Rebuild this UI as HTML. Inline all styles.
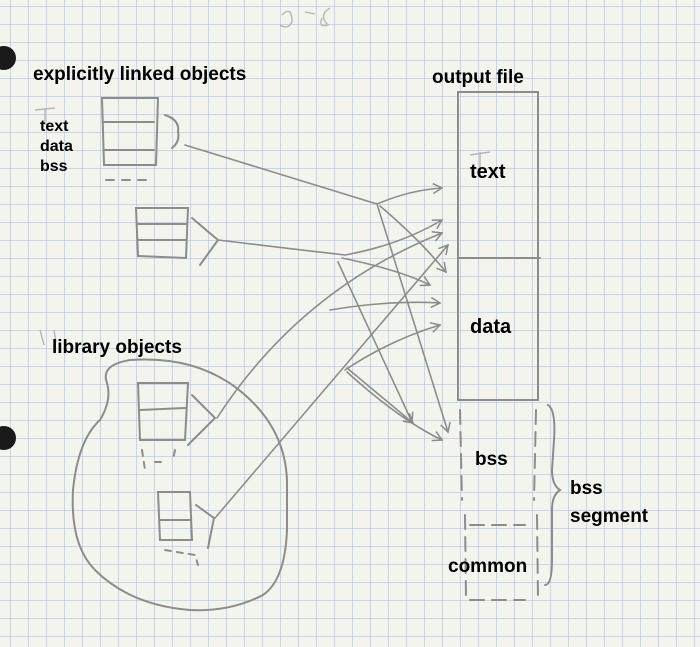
<!DOCTYPE html>
<html><head><meta charset="utf-8"><style>
html,body{margin:0;padding:0;width:700px;height:647px;overflow:hidden;background:#f4f4ef}
svg{display:block}
text{font-family:"Liberation Sans",Arial,sans-serif;font-weight:bold;fill:#000}
</style></head><body>
<svg width="700" height="647" viewBox="0 0 700 647" xmlns="http://www.w3.org/2000/svg">
<defs>
<pattern id="g" width="18" height="18" patternUnits="userSpaceOnUse" x="10" y="6">
<path d="M0 0H18M0 0V18" stroke="#a9c6e4" stroke-width="1.3" fill="none"/>
</pattern>
<marker id="a" markerWidth="12" markerHeight="12" refX="10" refY="6" orient="auto" markerUnits="userSpaceOnUse">
<path d="M1 1L10 6L1 11" fill="none" stroke="#8a8a8a" stroke-width="1.5"/>
</marker>
</defs>
<rect width="700" height="647" fill="#f4f4ef"/>
<rect width="700" height="647" fill="url(#g)"/>
<circle cx="4" cy="58" r="12" fill="#1a1a1a"/>
<circle cx="4" cy="438" r="12" fill="#1a1a1a"/>
<g fill="none" stroke="#8c8c8c" stroke-width="2" stroke-linecap="round">
<path d="M458 92L458 400L538 400L538 92Z"/>
<path d="M458 258L540 258"/>
<path d="M460 410L462 500M536 410L534 500M470 525L525 525M470 600L525 600M465 515L466 600M537 515L538 600" stroke-dasharray="14 8"/>
<path d="M548 405Q556 410 554 440L552 470Q552 485 560 490Q552 495 552 510L552 560Q552 585 545 585"/>
<path d="M102 98L158 98L156 165L104 165Z"/>
<path d="M104 122L154 122M104 150L154 150"/>
<path d="M106 180L150 180" stroke-dasharray="8 8"/>
<path d="M165 115Q180 120 178 132Q180 142 172 148"/>
<path d="M136 208L188 208L186 258L138 256Z"/>
<path d="M138 224L186 224M138 240L186 240"/>
<path d="M192 218L218 240L200 265"/>
<path d="M107 383Q100 365 130 360Q200 355 245 395Q285 430 287 480L287 530Q285 580 263 595Q230 612 190 610Q130 605 95 570Q70 545 73 490Q78 440 100 420Q112 400 107 383"/>
<path d="M138 383L188 383L185 440L140 440Z"/>
<path d="M140 410L185 408"/>
<path d="M142 450L145 470M155 462L165 462M175 450L173 460" stroke-dasharray="6 6"/>
<path d="M192 395L215 418L188 445"/>
<path d="M158 492L190 492L192 540L160 540Z"/>
<path d="M160 520L190 520"/>
<path d="M165 550L195 555L198 565" stroke-dasharray="6 6"/>
<path d="M196 505L214 518L208 548"/>
<g stroke-width="1.6" marker-end="url(#a)">
<path d="M185 145L377 204Q410 190 442 188"/>
<path d="M377 204L448 432"/>
<path d="M380 206Q420 240 446 272"/>
<path d="M218 240Q300 250 345 255Q400 245 442 220"/>
<path d="M342 258Q400 270 430 285"/>
<path d="M338 262L412 422"/>
<path d="M217 418Q300 290 442 233"/>
<path d="M330 310Q390 300 440 303"/>
<path d="M215 518L448 245"/>
<path d="M345 370Q390 340 440 325"/>
<path d="M347 368L413 423"/>
<path d="M347 372Q400 420 442 440"/>
</g>
</g>
<g fill="none" stroke="#b5b5b5" stroke-width="1.4">
<path d="M282 15Q292 5 292 22Q288 30 280 25M305 12L315 14M330 8Q318 15 328 25Q318 28 322 18"/>
<path d="M35 110L55 108M45 108L45 125"/>
<path d="M470 155L490 152M480 152L480 170"/>
<path d="M40 330L44 345M54 330L56 342"/>
</g>
<text x="33" y="80" font-size="19">explicitly linked objects</text>
<text x="432" y="83" font-size="19">output file</text>
<text x="40" y="131" font-size="16">text</text>
<text x="40" y="151" font-size="16">data</text>
<text x="40" y="171" font-size="16">bss</text>
<text x="470" y="178" font-size="20">text</text>
<text x="470" y="333" font-size="20">data</text>
<text x="52" y="353" font-size="19">library objects</text>
<text x="475" y="465" font-size="19">bss</text>
<text x="570" y="494" font-size="19">bss</text>
<text x="570" y="522" font-size="19">segment</text>
<text x="448" y="572" font-size="19">common</text>
</svg>
</body></html>
